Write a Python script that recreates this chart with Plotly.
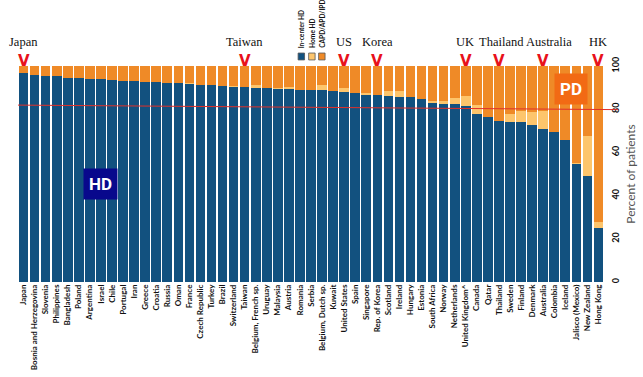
import plotly.graph_objects as go

countries = ["Japan", "Bosnia and Herzegovina", "Slovenia", "Philippines", "Bangladesh", "Poland",
             "Argentina", "Israel", "Chile", "Portugal", "Iran", "Greece", "Croatia", "Russia", "Oman",
             "France", "Czech Republic", "Turkey", "Brazil", "Switzerland", "Taiwan", "Belgium, French sp.",
             "Uruguay", "Malaysia", "Austria", "Romania", "Serbia", "Belgium, Dutch sp.", "Kuwait",
             "United States", "Spain", "Singapore", "Rep. of Korea", "Scotland", "Ireland", "Hungary",
             "Estonia", "South Africa", "Norway", "Netherlands", "United Kingdom^", "Canada", "Qatar",
             "Thailand", "Sweden", "Finland", "Denmark", "Australia", "Colombia", "Iceland",
             "Jalisco (Mexico)", "New Zealand", "Hong Kong"]

incenter_hd = [96.6, 95.8, 95.6, 95.4, 94.4, 94.3, 94.1, 93.8, 93.6, 93.2, 93.1, 92.8, 92.6, 92.3, 92.1,
               91.8, 91.4, 91.1, 90.8, 90.5, 90.3, 90.0, 89.7, 89.4, 89.2, 89.0, 88.8, 88.8, 88.6,
               88.1, 87.6, 86.9, 86.8, 85.9, 85.7, 85.5, 84.7, 83.3, 82.6, 82.2, 81.5, 77.7, 76.4,
               74.7, 74.1, 74.1, 72.9, 70.8, 69.6, 65.7, 54.8, 49.0, 25.2]
home_hd = [0.0, 0.0, 0.0, 0.0, 0.0, 0.0, 0.0, 0.0, 0.0, 0.0, 0.0, 0.0, 0.0, 0.0, 0.0,
           0.5, 0.0, 0.0, 0.0, 0.3, 0.2, 1.3, 0.0, 0.3, 1.0, 0.0, 0.0, 2.3, 0.0,
           1.6, 0.1, 0.5, 0.0, 2.7, 2.5, 0.0, 0.0, 0.5, 1.2, 3.1, 4.5, 4.2, 0.0,
           0.0, 3.9, 5.1, 5.9, 8.5, 0.0, 0.0, 0.5, 18.6, 2.6]
pd_share = [round(100 - a - b, 1) for a, b in zip(incenter_hd, home_hd)]

highlight_labels = ["Japan", "Taiwan", "US", "Korea", "UK", "Thailand", "Australia", "HK"]
highlight_countries = ["Japan", "Taiwan", "United States", "Rep. of Korea", "United Kingdom^",
                       "Thailand", "Australia", "Hong Kong"]
label_shift = [0, 0, 0, 0, -1, 3, 6, 0]

yticks = [0, 20, 40, 60, 80, 100]

C_HD = "#12517F"
C_HOME = "#FDC56C"
C_PD = "#EF8A27"

fig = go.Figure()
fig.add_trace(go.Bar(x=countries, y=incenter_hd, name="In-center HD", marker=dict(color=C_HD, line=dict(width=0))))
fig.add_trace(go.Bar(x=countries, y=home_hd, name="Home HD", marker=dict(color=C_HOME, line=dict(width=0))))
fig.add_trace(go.Bar(x=countries, y=pd_share, name="CAPD/APD/IPD", marker=dict(color=C_PD, line=dict(width=0))))

fig.update_layout(
    width=643, height=377,
    margin=dict(l=18, r=39, t=66, b=95),
    barmode="stack", bargap=0.13,
    showlegend=False,
    plot_bgcolor="white", paper_bgcolor="white",
    xaxis=dict(tickangle=-90, range=[-0.5, len(countries) - 0.5],
               tickfont=dict(family="Lato", size=8, color="#111", weight="bold"),
               showgrid=False, showline=False, ticks="", zeroline=False, automargin=False),
    yaxis=dict(side="right", range=[0, 100], tickvals=yticks, tickangle=-90,
               tickfont=dict(family="Lato", size=9, color="#111", weight="bold"),
               ticklabelstandoff=5,
               showgrid=False, zeroline=False, showline=False, ticks="",
               title=dict(text="Percent of patients", font=dict(family="Lato", size=12, color="#555"), standoff=6),
               automargin=False),
    font=dict(family="Lato"),
)

# 80% reference line
fig.add_shape(type="line", xref="paper", yref="y", x0=0, x1=1.024, y0=81.9, y1=79.8,
              line=dict(color="#E0302A", width=1))

ann = []
for lab, c, sh in zip(highlight_labels, highlight_countries, label_shift):
    ann.append(dict(x=c, y=1.155, xref="x", yref="paper", text=lab, showarrow=False, xshift=sh,
                    font=dict(family="Liberation Serif", size=12.5, color="#111")))
    ann.append(dict(x=c, y=1.072, xref="x", yref="paper", text="V", showarrow=False,
                    font=dict(family="DejaVu Sans", size=15, color="#E8111B", weight="bold")))

# legend (rotated)
leg_names = ["In-center HD", "Home HD", "CAPD/APD/IPD"]
leg_colors = [C_HD, C_HOME, C_PD]
leg_x = [0.4835, 0.5015, 0.5185]
for n, col, lx in zip(leg_names, leg_colors, leg_x):
    fig.add_shape(type="rect", xref="paper", yref="paper", x0=lx - 0.0055, x1=lx + 0.0055, y0=1.028, y1=1.060,
                  fillcolor=col, line=dict(color="#555", width=0.8))
    ann.append(dict(x=lx, y=1.074, xref="paper", yref="paper", text=n, textangle=-90, showarrow=False,
                    xanchor="center", yanchor="bottom",
                    font=dict(family="Lato", size=6.6, color="#111", weight="bold")))

ann.append(dict(x=0.14, y=45.4, xref="paper", yref="y", text="HD", showarrow=False,
                xanchor="center", yanchor="middle",
                bgcolor="#08088C", borderpad=5,
                font=dict(family="Roboto", size=17, color="white", weight="bold")))
ann.append(dict(x=0.9445, y=89.4, xref="paper", yref="y", text="PD", showarrow=False,
                xanchor="center", yanchor="middle",
                bgcolor="#F26A14", borderpad=5,
                font=dict(family="Roboto", size=17, color="white", weight="bold")))

fig.update_layout(annotations=ann)
fig.write_html("out.html", config={"displayModeBar": False},
               post_script="document.body.style.margin='0px';")
